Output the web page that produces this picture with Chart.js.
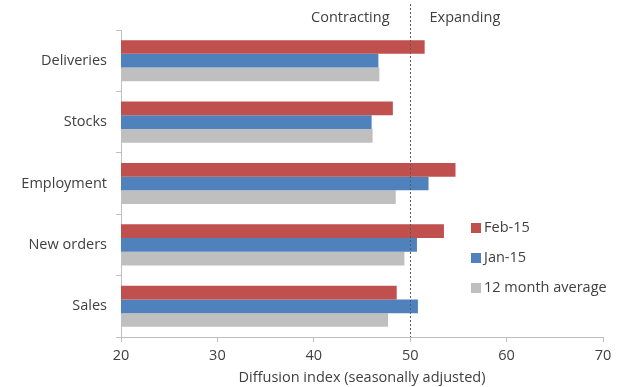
<!DOCTYPE html>
<html>
<head>
<meta charset="utf-8">
<title>Diffusion index chart</title>
<script src="https://cdn.jsdelivr.net/npm/chart.js"></script>
<style>
  html, body { margin: 0; padding: 0; background: #fff; }
  #wrap { width: 622px; height: 387px; position: relative; }
</style>
</head>
<body>
<div id="wrap"><canvas id="chart"></canvas></div>
<script>
const categories = ["Deliveries", "Stocks", "Employment", "New orders", "Sales"];
const feb15 = [51.5, 48.2, 54.7, 53.5, 48.6];
const jan15 = [46.7, 46.0, 51.9, 50.7, 50.8];
const avg12 = [46.8, 46.1, 48.5, 49.4, 47.7];
const seriesNames = ["Feb-15", "Jan-15", "12 month average"];
const threshold = 50;

const colors = ["#C0504D", "#4F81BD", "#BFBFBF"];
const font = "'Open Sans', 'DejaVu Sans', sans-serif";
const fontSize = 14.5;
const textColor = "#404040";

// dashed 50 line, the two region labels and the legend
const extras = {
  id: "extras",
  afterDatasetsDraw(chart) {
    const ctx = chart.ctx;
    const x = chart.scales.x;
    const area = chart.chartArea;
    const px = Math.round(x.getPixelForValue(threshold)) + 0.5;

    ctx.save();
    ctx.strokeStyle = "#595959";
    ctx.lineWidth = 1;
    ctx.setLineDash([2, 2]);
    ctx.beginPath();
    ctx.moveTo(px, 4);
    ctx.lineTo(px, area.bottom);
    ctx.stroke();
    ctx.setLineDash([]);

    ctx.font = fontSize + "px " + font;
    ctx.fillStyle = textColor;
    ctx.textBaseline = "middle";
    ctx.textAlign = "right";
    ctx.fillText("Contracting", px - 21, 18);
    ctx.textAlign = "left";
    ctx.fillText("Expanding", px + 19, 18);

    // legend
    const lx = 471, ly = 228, gap = 30;
    chart.data.datasets.forEach((ds, i) => {
      const y = ly + i * gap;
      ctx.fillStyle = ds.backgroundColor;
      ctx.fillRect(lx, y - 5, 10, 10);
      ctx.fillStyle = textColor;
      ctx.textAlign = "left";
      ctx.fillText(ds.label, lx + 13, y);
    });
    ctx.restore();
  }
};

const data = {
  labels: categories,
  datasets: [feb15, jan15, avg12].map((vals, i) => ({
    label: seriesNames[i],
    data: vals,
    backgroundColor: colors[i],
    borderWidth: 0,
    barPercentage: 1,
    categoryPercentage: 0.67
  }))
};

const config = {
  type: "bar",
  data: data,
  options: {
    indexAxis: "y",
    responsive: true,
    maintainAspectRatio: false,
    animation: false,
    layout: { padding: { left: 0, right: 19, top: 30, bottom: 0 } },
    plugins: {
      legend: { display: false },
      tooltip: { enabled: false }
    },
    scales: {
      x: {
        min: 20,
        max: 70,
        ticks: { stepSize: 10, color: textColor, font: { family: font, size: fontSize }, padding: 5 },
        grid: { drawOnChartArea: false, tickLength: 5, color: "#BFBFBF" },
        border: { color: "#BFBFBF" },
        title: {
          display: true,
          text: "Diffusion index (seasonally adjusted)",
          color: textColor,
          font: { family: font, size: fontSize },
          padding: { top: 0, bottom: 0 }
        },
        afterFit(s) { s.height = 50; }
      },
      y: {
        ticks: { color: textColor, font: { family: font, size: fontSize }, padding: 9 },
        grid: { drawOnChartArea: false, tickLength: 5, color: "#BFBFBF", offset: true },
        border: { color: "#BFBFBF" },
        afterFit(s) { s.width = 121; }
      }
    }
  },
  plugins: [extras]
};

const chart = new Chart(document.getElementById("chart").getContext("2d"), config);
</script>
</body>
</html>
